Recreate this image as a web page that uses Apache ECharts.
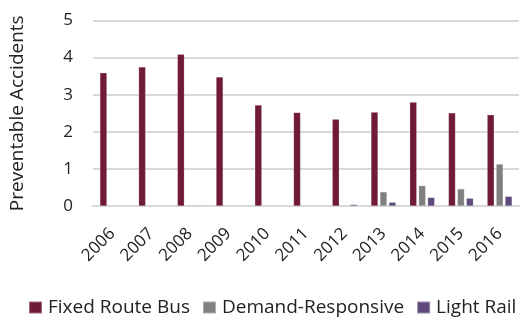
<!DOCTYPE html>
<html>
<head>
<meta charset="utf-8">
<script src="https://cdn.jsdelivr.net/npm/echarts@6/dist/echarts.min.js"></script>
<style>
  html, body { margin: 0; padding: 0; background: #fff; }
  #chart { width: 521px; height: 320px; }
</style>
</head>
<body>
<div id="chart"></div>
<script>
// Preventable accidents by mode, 2006–2016
const years = ['2006', '2007', '2008', '2009', '2010', '2011', '2012', '2013', '2014', '2015', '2016'];
const fixedRouteBus = [3.59, 3.75, 4.09, 3.48, 2.72, 2.52, 2.34, 2.53, 2.80, 2.51, 2.46];
const demandResponsive = [null, null, null, null, null, null, null, 0.38, 0.55, 0.46, 1.13];
const lightRail = [null, null, 0.02, null, null, null, 0.04, 0.10, 0.23, 0.21, 0.26];
const yTicks = [0, 1, 2, 3, 4, 5];

const font = 'Open Sans';
const chart = echarts.init(document.getElementById('chart'), null, { renderer: 'canvas' });

function barSeries(name, data, color) {
  return {
    name: name,
    type: 'bar',
    data: data,
    barWidth: 7,
    barGap: '28%',
    itemStyle: { color: color, borderColor: 'rgba(255,255,255,0.35)', borderWidth: 0.5 }
  };
}

chart.setOption({
  animation: false,
  textStyle: { fontFamily: font },
  grid: { left: 91, right: 2, top: 20.5, bottom: 114, containLabel: false },
  legend: {
    top: 298,
    left: 28,
    width: 493,
    padding: 0,
    itemWidth: 13,
    itemHeight: 12,
    itemGap: 12,
    icon: 'rect',
    textStyle: { fontFamily: font, fontSize: 19, color: '#222', padding: [0, 0, 0, 1] },
    data: ['Fixed Route Bus', 'Demand-Responsive', 'Light Rail']
  },
  xAxis: {
    type: 'category',
    data: years,
    axisLine: { show: true, lineStyle: { color: '#d9d9d9', width: 2 } },
    axisTick: { show: false },
    axisLabel: { rotate: 45, fontFamily: font, fontSize: 17, color: '#222', margin: 25 }
  },
  yAxis: {
    type: 'value',
    min: yTicks[0],
    max: yTicks[yTicks.length - 1],
    interval: 1,
    name: 'Preventable Accidents',
    nameLocation: 'middle',
    nameGap: 66,
    nameTextStyle: { fontFamily: font, fontSize: 19, color: '#222' },
    axisLine: { show: false },
    axisTick: { show: false },
    axisLabel: { fontFamily: font, fontSize: 17, color: '#222', margin: 20 },
    splitLine: { lineStyle: { color: '#d9d9d9', width: 2 } }
  },
  series: [
    barSeries('Fixed Route Bus', fixedRouteBus, '#6f1b37'),
    barSeries('Demand-Responsive', demandResponsive, '#808080'),
    barSeries('Light Rail', lightRail, '#5f4a7d')
  ]
});
</script>
</body>
</html>
